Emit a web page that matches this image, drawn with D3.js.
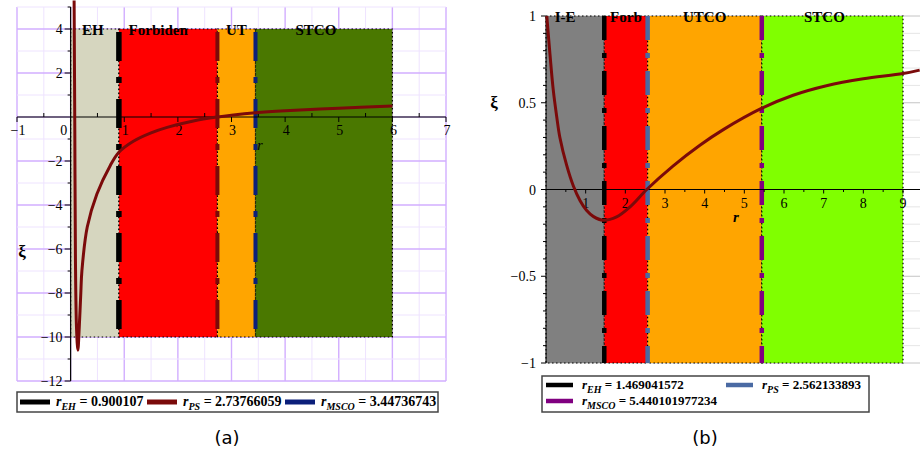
<!DOCTYPE html>
<html><head><meta charset="utf-8">
<script src="https://cdn.jsdelivr.net/npm/d3@7"></script>
<style>
body{margin:0;background:#fff;}
svg{display:block;}
</style></head>
<body>
<svg id="chart" width="920" height="456"></svg>
<script>
// ---------- Panel (a) data ----------
const aCurveR  = [0.065, 0.078, 0.09, 0.11, 0.135, 0.16, 0.19, 0.21, 0.31, 0.49, 0.74, 0.9, 1.17, 1.5, 1.8, 2.29, 2.74, 3.0, 3.45, 4, 5, 6];
const aCurveXi = [5.3, -0.6, -6.5, -9.6, -10.6, -9.6, -8.0, -7.0, -5.0, -3.5, -2.2, -1.6, -1.1, -0.72, -0.47, -0.18, 0, 0.08, 0.19, 0.28, 0.4, 0.5];
const aBounds = [0, 0.900107, 2.73766059, 3.44736743, 6];
const aRegionLabels = ["EH", "Forbiden", "UT", "STCO"];
const aRegionY = [-10, 4];
const aLegendNames = ["EH", "PS", "MSCO"];
const aLegendValues = ["0.900107", "2.73766059", "3.44736743"];
const aXTicks = [-1, 0, 1, 2, 3, 4, 5, 6, 7];
const aYTicks = [4, 2, 0, -2, -4, -6, -8, -10, -12];

// ---------- Panel (b) data ----------
const bCurveR  = [0.02, 0.1, 0.18, 0.27, 0.35, 0.52, 0.69, 0.86, 1.02, 1.19, 1.44, 1.78, 2.12, 2.54, 3.2, 3.88, 4.47, 5.43, 6.23, 7.07, 8, 9, 9.42];
const bCurveXi = [1.0, 0.78, 0.58, 0.42, 0.3, 0.14, 0.02, -0.065, -0.12, -0.155, -0.177, -0.158, -0.1, 0, 0.135, 0.255, 0.345, 0.467, 0.543, 0.598, 0.638, 0.668, 0.688];
const bBounds = [0, 1.469041572, 2.562133893, 5.440101977234, 9];
const bRegionLabels = ["I-E", "Forb", "UTCO", "STCO"];
const bRegionY = [-1, 1];
const bLegendNames = ["EH", "PS", "MSCO"];
const bLegendValues = ["1.469041572", "2.562133893", "5.440101977234"];
const bXTicks = [1, 2, 3, 4, 5, 6, 7, 8, 9];
const bYTicks = [1, 0.5, 0, -0.5, -1];

// ---------- styles ----------
const SERIF = "'Liberation Serif', 'Times New Roman', serif";
const aRegionColors = ["#D6D6BF", "#FF0000", "#FFA500", "#4A7800"];
const aLineColors = ["#000000", "#7A0A0A", "#0B1F7A"];
const aLineWidths = [5.5, 4, 4];
const bRegionColors = ["#808080", "#FF0000", "#FFA500", "#80FF00"];
const bLineColors = ["#000000", "#4A6AA3", "#800080"];
const curveColor = "#7B0A0A";
const aLabelShift = [-2, -10, 0, -8];
const bLabelShift = [-10, 0, 0, -8];

const svg = d3.select("#chart");
const fmt = v => (v < 0 ? "\u2212" + Math.abs(v) : String(v));
const T = (sel) => sel.append("text").style("font-family", SERIF);

// ================= Panel (a) =================
const xA = d3.scaleLinear().domain([-1, 7]).range([17, 446]);
const yA = d3.scaleLinear().domain([-12, 5]).range([381, 7]);
const gA = svg.append("g");

const aVGrid = d3.range(-1, 7.001, 0.5);
const aHGrid = d3.range(-12, 5.001, 1);
gA.selectAll(".vg").data(aVGrid).join("line")
  .attr("x1", d => xA(d)).attr("x2", d => xA(d)).attr("y1", yA(5)).attr("y2", yA(-12))
  .attr("stroke", d => Number.isInteger(d) ? "#D2AEFF" : "#EEE3FF").attr("stroke-width", d => Number.isInteger(d) ? 1.4 : 1);
gA.selectAll(".hg").data(aHGrid).join("line")
  .attr("x1", xA(-1)).attr("x2", xA(7)).attr("y1", d => yA(d)).attr("y2", d => yA(d))
  .attr("stroke", d => d % 2 === 0 ? "#D2AEFF" : "#EEE3FF").attr("stroke-width", d => d % 2 === 0 ? 1.4 : 1);

const aRegions = aRegionLabels.map((n, i) => ({name: n, r0: aBounds[i], r1: aBounds[i + 1], i}));
gA.selectAll(".reg").data(aRegions).join("rect")
  .attr("x", d => xA(d.r0)).attr("width", d => xA(d.r1) - xA(d.r0))
  .attr("y", yA(aRegionY[1])).attr("height", yA(aRegionY[0]) - yA(aRegionY[1]))
  .attr("fill", d => aRegionColors[d.i])
  .attr("stroke", "#000").attr("stroke-width", 1.2).attr("stroke-dasharray", "1.5,2.5");

const aLines = aBounds.slice(1, 4).map((r, i) => ({r, i}));
gA.selectAll(".bl").data(aLines).join("line")
  .attr("x1", d => xA(d.r)).attr("x2", d => xA(d.r))
  .attr("y1", yA(aRegionY[1])).attr("y2", yA(aRegionY[0]))
  .attr("stroke", d => aLineColors[d.i]).attr("stroke-width", d => aLineWidths[d.i])
  .attr("stroke-dasharray", "29,16,6,16").attr("stroke-dashoffset", 64);

gA.append("line").attr("x1", xA(-1)).attr("x2", xA(7)).attr("y1", yA(0)).attr("y2", yA(0)).attr("stroke", "#000").attr("stroke-width", 1.2);
gA.append("line").attr("x1", xA(0)).attr("x2", xA(0)).attr("y1", yA(5)).attr("y2", yA(-12)).attr("stroke", "#000").attr("stroke-width", 1.2);
gA.selectAll(".xtm").data(d3.range(-1, 7.001, 0.5).filter(d => d !== 0)).join("line")
  .attr("x1", d => xA(d)).attr("x2", d => xA(d))
  .attr("y1", yA(0)).attr("y2", d => Number.isInteger(d) ? yA(0) + 5 : yA(0) - 4)
  .attr("stroke", "#000").attr("stroke-width", 1);
gA.selectAll(".xtl").data(aXTicks).join(enter => T(enter))
  .attr("x", d => d === 0 ? xA(0) - 7 : xA(d) + 1).attr("y", yA(0) + 18)
  .attr("text-anchor", "middle").attr("font-size", 14).text(d => fmt(d));
gA.selectAll(".ytm").data(d3.range(-12, 5.001, 1).filter(d => d !== 0)).join("line")
  .attr("x1", d => d % 2 === 0 ? xA(0) - 6 : xA(0) - 3).attr("x2", xA(0))
  .attr("y1", d => yA(d)).attr("y2", d => yA(d)).attr("stroke", "#000");
gA.selectAll(".ytl").data(aYTicks.filter(d => d !== 0)).join(enter => T(enter))
  .attr("x", xA(0) - 8).attr("y", d => yA(d) + 5)
  .attr("text-anchor", "end").attr("font-size", 14).text(d => fmt(d));

gA.selectAll(".rl").data(aRegions).join(enter => T(enter))
  .attr("x", d => (xA(d.r0) + xA(d.r1)) / 2 + aLabelShift[d.i]).attr("y", yA(aRegionY[1]) + 6)
  .attr("text-anchor", "middle").attr("font-size", 15).attr("font-weight", "bold").text(d => d.name);

const lineA = d3.line().x((d, i) => xA(aCurveR[i])).y(d => yA(d)).curve(d3.curveCatmullRom.alpha(0.5));
gA.append("path").attr("d", lineA(aCurveXi)).attr("fill", "none")
  .attr("stroke", curveColor).attr("stroke-width", 3);

T(gA).attr("x", 22).attr("y", 257).attr("text-anchor", "middle")
  .attr("font-size", 17).attr("font-weight", "bold").text("ξ");
T(gA).attr("x", 260).attr("y", 150).attr("text-anchor", "middle")
  .attr("font-size", 14).attr("font-style", "italic").text("r");

const legA = gA.append("g");
legA.append("rect").attr("x", 17).attr("y", 392).attr("width", 421).attr("height", 20)
  .attr("fill", "#fff").attr("stroke", "#444").attr("stroke-width", 1.5);
const aLegX = [20, 147, 285];
aLegendNames.forEach((n, i) => {
  legA.append("line").attr("x1", aLegX[i]).attr("x2", aLegX[i] + 30).attr("y1", 402).attr("y2", 402)
    .attr("stroke", aLineColors[i]).attr("stroke-width", 5);
  const t = T(legA).attr("x", aLegX[i] + 36).attr("y", 406).attr("font-size", 14).attr("font-weight", "bold");
  t.append("tspan").attr("font-style", "italic").text("r");
  t.append("tspan").attr("font-style", "italic").attr("font-size", 10).attr("dy", 4).text(n);
  t.append("tspan").attr("dy", -4).text(" = " + aLegendValues[i]);
});

svg.append("text").attr("x", 227).attr("y", 444).attr("text-anchor", "middle")
  .style("font-family", "'DejaVu Sans', sans-serif").attr("font-size", 18).text("(a)");

// ================= Panel (b) =================
const xB = d3.scaleLinear().domain([0, 9]).range([546, 903]);
const yB = d3.scaleLinear().domain([-1, 1]).range([363, 16]);
const gB = svg.append("g");

const bHGrid = d3.range(-10, 10.001, 1).map(d => d / 10);
const isHalf = d => Math.abs(d * 2 - Math.round(d * 2)) < 1e-6;
gB.selectAll(".hg").data(bHGrid).join("line")
  .attr("x1", xB(0)).attr("x2", 920).attr("y1", d => yB(d)).attr("y2", d => yB(d))
  .attr("stroke", d => isHalf(d) ? "#C4C4C4" : "#E6E6E6").attr("stroke-width", 1);

const bRegions = bRegionLabels.map((n, i) => ({name: n, r0: bBounds[i], r1: bBounds[i + 1], i}));
gB.selectAll(".reg").data(bRegions).join("rect")
  .attr("x", d => xB(d.r0)).attr("width", d => xB(d.r1) - xB(d.r0))
  .attr("y", yB(bRegionY[1])).attr("height", yB(bRegionY[0]) - yB(bRegionY[1]))
  .attr("fill", d => bRegionColors[d.i])
  .attr("stroke", "#000").attr("stroke-width", 1.2).attr("stroke-dasharray", "1.5,2.5");

const bLines = bBounds.slice(1, 4).map((r, i) => ({r, i}));
gB.selectAll(".bl").data(bLines).join("line")
  .attr("x1", d => xB(d.r)).attr("x2", d => xB(d.r))
  .attr("y1", yB(bRegionY[1])).attr("y2", yB(bRegionY[0]))
  .attr("stroke", d => bLineColors[d.i]).attr("stroke-width", 4.5)
  .attr("stroke-dasharray", "24,13,5,13").attr("stroke-dashoffset", 0);

gB.append("line").attr("x1", xB(0)).attr("x2", 920).attr("y1", yB(0)).attr("y2", yB(0)).attr("stroke", "#000").attr("stroke-width", 1.2);
gB.append("line").attr("x1", xB(0)).attr("x2", xB(0)).attr("y1", yB(1)).attr("y2", yB(-1)).attr("stroke", "#000").attr("stroke-width", 1);
gB.selectAll(".xtm").data(d3.range(0.5, 9.001, 0.5)).join("line")
  .attr("x1", d => xB(d)).attr("x2", d => xB(d))
  .attr("y1", yB(0)).attr("y2", d => Number.isInteger(d) ? yB(0) + 4 : yB(0) + 2.5)
  .attr("stroke", "#000").attr("stroke-width", 1);
gB.selectAll(".xtl").data(bXTicks).join(enter => T(enter))
  .attr("x", d => xB(d)).attr("y", yB(0) + 18)
  .attr("text-anchor", "middle").attr("font-size", 14).text(d => fmt(d));
gB.selectAll(".ytm").data(bHGrid).join("line")
  .attr("x1", d => isHalf(d) ? xB(0) - 5 : xB(0) - 3).attr("x2", xB(0))
  .attr("y1", d => yB(d)).attr("y2", d => yB(d)).attr("stroke", "#000");
gB.selectAll(".ytl").data(bYTicks).join(enter => T(enter))
  .attr("x", xB(0) - 10).attr("y", d => yB(d) + 5)
  .attr("text-anchor", "end").attr("font-size", 14).text(d => fmt(d));

gB.selectAll(".rl").data(bRegions).join(enter => T(enter))
  .attr("x", d => (xB(d.r0) + xB(d.r1)) / 2 + bLabelShift[d.i]).attr("y", yB(bRegionY[1]) + 6)
  .attr("text-anchor", "middle").attr("font-size", 15).attr("font-weight", "bold").text(d => d.name);

const lineB = d3.line().x((d, i) => xB(bCurveR[i])).y(d => yB(d)).curve(d3.curveCatmullRom.alpha(0.5));
gB.append("path").attr("d", lineB(bCurveXi)).attr("fill", "none")
  .attr("stroke", curveColor).attr("stroke-width", 3);

T(gB).attr("x", 494).attr("y", 108).attr("text-anchor", "middle")
  .attr("font-size", 17).attr("font-weight", "bold").text("ξ");
T(gB).attr("x", 736).attr("y", 222).attr("text-anchor", "middle")
  .attr("font-size", 15).attr("font-weight", "bold").attr("font-style", "italic").text("r");

const legB = gB.append("g");
legB.append("rect").attr("x", 542).attr("y", 376).attr("width", 327).attr("height", 36)
  .attr("fill", "#fff").attr("stroke", "#444").attr("stroke-width", 1.5);
const bLegPos = [[546, 385], [726, 385], [546, 401]];
bLegendNames.forEach((n, i) => {
  const [lx, ly] = bLegPos[i];
  legB.append("line").attr("x1", lx).attr("x2", lx + 27).attr("y1", ly).attr("y2", ly)
    .attr("stroke", bLineColors[i]).attr("stroke-width", 4.5);
  const t = T(legB).attr("x", lx + 36).attr("y", ly + 4).attr("font-size", 13).attr("font-weight", "bold");
  t.append("tspan").attr("font-style", "italic").text("r");
  t.append("tspan").attr("font-style", "italic").attr("font-size", 10).attr("dy", 4).text(n);
  t.append("tspan").attr("dy", -4).text(" = " + bLegendValues[i]);
});

svg.append("text").attr("x", 705).attr("y", 444).attr("text-anchor", "middle")
  .style("font-family", "'DejaVu Sans', sans-serif").attr("font-size", 18).text("(b)");
</script>
</body></html>
